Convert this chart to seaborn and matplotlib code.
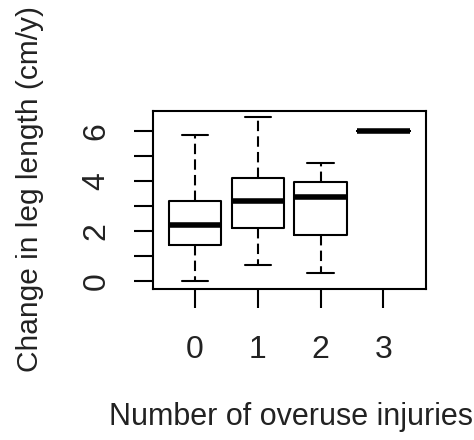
import matplotlib
matplotlib.use("Agg")
import matplotlib.pyplot as plt
import seaborn as sns
import numpy as np
import pandas as pd

# five-number summaries, one entry per group
injuries = ["0", "1", "2", "3"]
whisker_low = [0.00, 0.63, 0.31, 6.00]
q1 = [1.43, 2.13, 1.83, 6.00]
median = [2.23, 3.20, 3.36, 6.00]
q3 = [3.19, 4.13, 3.97, 6.00]
whisker_high = [5.83, 6.55, 4.71, 6.00]

rows = []
for i, g in enumerate(injuries):
    for v in (whisker_low[i], q1[i], median[i], q3[i], whisker_high[i]):
        rows.append({"injuries": g, "change": v})
df = pd.DataFrame(rows)

sns.set_style("white")
plt.rcParams["font.family"] = ["Liberation Sans", "DejaVu Sans"]

fig = plt.figure(figsize=(4.74, 4.4), dpi=100)
ax = fig.add_axes([0.3235, 0.3425, 0.5755, 0.4052])

sns.boxplot(data=df, x="injuries", y="change", order=injuries, ax=ax,
            width=0.84, whis=(0, 100), fill=False, gap=0, color="black",
            linewidth=1.5, showfliers=False,
            whiskerprops={"linestyle": (0, (5, 2.5)), "color": "black"},
            capprops={"color": "black"},
            boxprops={"color": "black"},
            medianprops={"linewidth": 4, "color": "black",
                         "solid_capstyle": "butt"})

ax.set_xlim(-0.665, 3.68)
ax.set_ylim(-0.33, 6.8)
ax.set_yticks(range(0, 7))
ax.set_yticklabels(["0", "", "2", "", "4", "", "6"], rotation=90, va="center")
ax.tick_params(axis="both", direction="out", length=14, width=1.5,
               labelsize=23, colors="black", labelcolor="#222222",
               left=True, bottom=True)
ax.tick_params(axis="y", pad=16)
ax.tick_params(axis="x", pad=19)
for s in ax.spines.values():
    s.set_visible(True)
    s.set_color("black")
    s.set_linewidth(1.5)

ax.set_xlabel("Number of overuse injuries", fontsize=22, color="#222222")
ax.set_ylabel("Change in leg length (cm/y)", fontsize=21.5, color="#222222")
ax.xaxis.set_label_coords(0.505, -0.63)
ax.yaxis.set_label_coords(-0.40, 0.565)

fig.savefig("out.png", dpi=100, facecolor="white")
